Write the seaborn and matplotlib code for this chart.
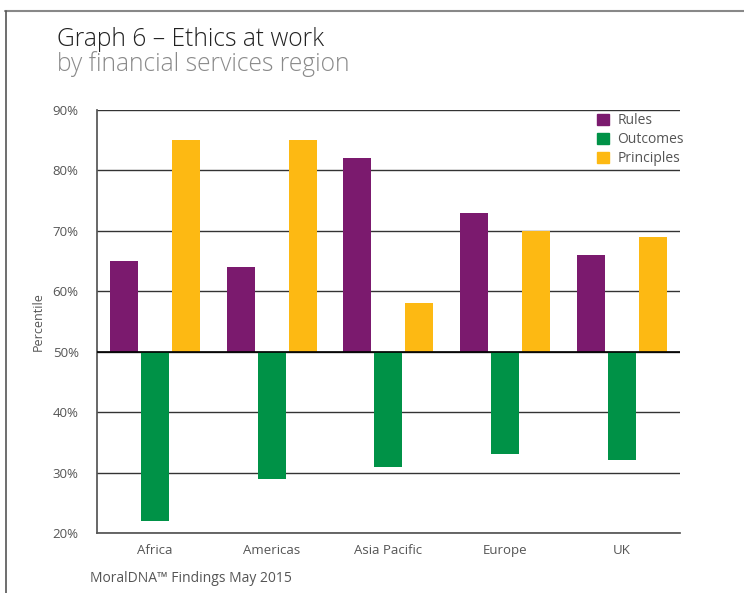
import numpy as np
import pandas as pd
import seaborn as sns
import matplotlib.pyplot as plt
from matplotlib.lines import Line2D
from matplotlib.patches import Patch

regions = ["Africa", "Americas", "Asia Pacific", "Europe", "UK"]
rules = [65, 64, 82, 73, 66]
outcomes = [22, 29, 31, 33, 32]
principles = [85, 85, 58, 70, 69]
series = ["Rules", "Outcomes", "Principles"]
baseline = 50

colors = {"Rules": "#7B1A6E", "Outcomes": "#009247", "Principles": "#FDB913"}

df = pd.DataFrame({
    "Region": regions * 3,
    "Ethic": ["Rules"] * 5 + ["Outcomes"] * 5 + ["Principles"] * 5,
    "Value": rules + outcomes + principles,
})
# bars hang from the 50% line
df["Delta"] = df["Value"] - baseline

sns.set_theme(style="white")
plt.rcParams["font.family"] = ["Open Sans", "DejaVu Sans"]

fig = plt.figure(figsize=(7.44, 5.93), dpi=100)
ax = fig.add_axes([0.130, 0.1012, 0.784, 0.7133])

sns.barplot(data=df, x="Region", y="Delta", hue="Ethic", hue_order=series,
            palette=colors, order=regions, width=0.8, gap=0.1,
            bottom=baseline, saturation=1, legend=False, linewidth=0,
            ax=ax, zorder=3)

ax.set_ylim(20, 90)
ax.set_xlim(-0.5, 4.5)
ax.set_yticks(range(20, 91, 10))
ax.set_yticklabels([f"{t}%" for t in range(20, 91, 10)])
ax.yaxis.grid(True, color="#333333", linewidth=1, zorder=0)
ax.set_axisbelow(True)
ax.tick_params(axis="both", length=0, labelsize=9.5, labelcolor="#555555")
ax.tick_params(axis="y", pad=13)
ax.tick_params(axis="x", pad=8)
ax.set_xlabel("")
ax.set_ylabel("Percentile", fontsize=9, color="#555555", labelpad=6)

for s in ["top", "right"]:
    ax.spines[s].set_visible(False)
ax.spines["left"].set_color("#555555")
ax.spines["bottom"].set_color("#555555")
ax.axhline(baseline, color="black", linewidth=1.2, zorder=4)

handles = [Patch(color=colors[s], label=s) for s in series]
ax.legend(handles=handles, loc="upper right", bbox_to_anchor=(1.028, 1.022),
          frameon=False, handlelength=0.85, handleheight=0.85, handletextpad=0.6,
          labelspacing=0.28, fontsize=10, labelcolor="#555555")

fig.text(0.077, 0.922, "Graph 6 \u2013 Ethics at work", fontsize=17.7,
         fontweight="light", color="#222222")
fig.text(0.077, 0.880, "by financial services region", fontsize=17.7,
         fontweight="light", color="#8a8a8a")
fig.text(0.121, 0.018, "MoralDNA\u2122 Findings May 2015", fontsize=10,
         color="#555555")

# page frame
fig.add_artist(Line2D([0.007, 1.0], [0.982, 0.982], color="#888888", linewidth=1.5))
fig.add_artist(Line2D([0.008, 0.008], [0.0, 0.982], color="#555555", linewidth=1.2))

fig.savefig("out.png", dpi=100)
